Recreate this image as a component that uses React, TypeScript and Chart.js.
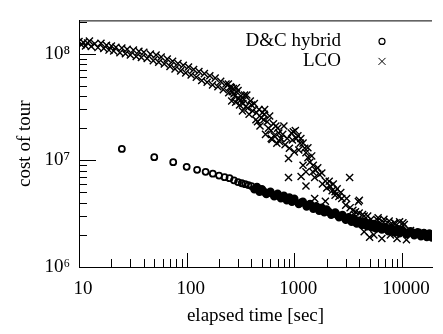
import { useEffect, useRef } from 'react';
import { Chart, registerables } from 'chart.js';

Chart.register(...registerables);

// ---- data ----
const seriesNames = ['D&C hybrid', 'LCO'];
const xTickValues = [10, 100, 1000, 10000];
const yTickValues = [1e6, 1e7, 1e8];
const yTickLabels = ['10\u2076', '10\u2077', '10\u2078'];

// D&C hybrid: [elapsed time (s), cost of tour]
const dcEarly: [number, number][] = [
  [25, 1.28e7], [50, 1.07e7], [75, 9.6e6], [100, 8.7e6], [125, 8.15e6], [150, 7.8e6],
  [175, 7.5e6], [200, 7.2e6], [225, 6.95e6], [250, 6.8e6], [275, 6.5e6], [300, 6.25e6],
  [325, 6.1e6], [350, 5.98e6], [375, 5.86e6], [400, 5.74e6],
];
const dcUpper: [number, number][] = [
  [450, 5.64e6], [500, 5.37e6], [600, 5.09e6], [700, 4.86e6], [800, 4.67e6], [900, 4.49e6],
  [1000, 4.36e6], [1200, 4.10e6], [1400, 3.90e6], [1600, 3.72e6], [1800, 3.59e6], [2000, 3.46e6],
  [2400, 3.24e6], [2800, 3.08e6], [3200, 2.93e6], [3600, 2.82e6], [4000, 2.72e6], [4500, 2.64e6],
  [5000, 2.58e6], [5500, 2.53e6], [6000, 2.46e6], [7000, 2.38e6], [8000, 2.31e6], [9000, 2.27e6],
  [10000, 2.24e6], [12000, 2.17e6], [14000, 2.12e6], [16000, 2.08e6], [18000, 2.06e6], [20000, 2.04e6],
];
const dcMiddle: [number, number][] = [
  [440, 5.48e6], [520, 5.10e6], [575, 4.95e6], [680, 4.71e6], [780, 4.53e6], [880, 4.35e6],
  [980, 4.21e6], [1150, 4.00e6], [1350, 3.80e6], [1550, 3.62e6], [1750, 3.48e6], [2100, 3.28e6],
  [2500, 3.08e6], [2900, 2.92e6], [3300, 2.79e6], [3700, 2.69e6], [4100, 2.60e6], [4700, 2.52e6],
  [5200, 2.46e6], [5700, 2.41e6], [6300, 2.35e6], [6800, 2.31e6], [7200, 2.28e6], [7800, 2.23e6],
  [8300, 2.21e6], [8800, 2.19e6], [9300, 2.17e6], [9800, 2.15e6], [10500, 2.13e6], [11500, 2.10e6],
  [12500, 2.08e6], [13500, 2.05e6], [14500, 2.03e6], [15500, 2.01e6], [16500, 2.00e6], [17500, 1.98e6],
  [18500, 1.97e6],
];
const dcLower: [number, number][] = [
  [425, 5.36e6], [475, 5.08e6], [550, 4.82e6], [650, 4.59e6], [750, 4.40e6], [850, 4.22e6],
  [950, 4.08e6], [1100, 3.90e6], [1300, 3.69e6], [1500, 3.51e6], [1700, 3.37e6], [1900, 3.25e6],
  [2200, 3.09e6], [2600, 2.92e6], [3000, 2.77e6], [3400, 2.65e6], [3800, 2.55e6], [4250, 2.48e6],
  [4750, 2.41e6], [5250, 2.35e6], [5750, 2.30e6], [6500, 2.24e6], [7500, 2.16e6], [8500, 2.11e6],
  [9500, 2.07e6], [11000, 2.04e6], [13000, 1.98e6], [15000, 1.94e6], [17000, 1.91e6], [19000, 1.89e6],
];

// LCO: [elapsed time (s), cost of tour]
const lcoEarly: [number, number][] = [
  [10, 1.30e8], [10.5, 1.21e8], [11, 1.27e8], [11.5, 1.18e8], [12, 1.26e8], [12.5, 1.31e8],
  [13, 1.17e8], [14, 1.24e8], [15, 1.14e8], [16, 1.25e8], [17, 1.12e8], [18, 1.20e8],
  [19, 1.08e8], [20, 1.18e8], [21, 1.06e8], [22, 1.15e8], [24, 1.02e8], [25, 1.13e8],
  [27, 1.00e8], [28, 1.10e8], [30, 0.97e8], [32, 1.08e8], [34, 0.94e8], [36, 1.05e8],
  [38, 0.92e8], [40, 1.03e8], [43, 0.90e8], [46, 0.99e8], [49, 0.86e8], [52, 0.97e8],
  [55, 0.83e8], [58, 0.93e8], [62, 0.80e8], [66, 0.89e8], [70, 0.76e8], [74, 0.85e8],
  [78, 0.72e8], [83, 0.81e8], [88, 0.69e8], [93, 0.78e8], [98, 0.66e8], [104, 0.75e8],
  [110, 0.63e8], [116, 0.71e8], [123, 0.60e8], [130, 0.68e8], [138, 0.56e8], [146, 0.65e8],
  [155, 0.54e8], [164, 0.62e8], [174, 0.51e8], [184, 0.59e8], [195, 0.49e8], [207, 0.55e8],
  [219, 0.46e8], [232, 0.52e8], [246, 0.43e8], [260, 0.48e8], [280, 0.40e8], [300, 0.45e8],
  [320, 0.37e8], [345, 0.41e8],
];
const lcoMid: [number, number][] = [
  [255, 4.9e7], [262, 3.6e7], [275, 4.2e7], [285, 3.5e7], [290, 4.8e7], [310, 3.3e7],
  [318, 4.0e7], [330, 2.9e7], [340, 3.7e7], [355, 3.2e7], [362, 4.1e7], [380, 2.7e7],
  [390, 3.6e7], [410, 2.9e7], [425, 3.4e7], [440, 2.4e7], [470, 3.0e7], [480, 2.1e7],
  [520, 2.4e7], [530, 3.0e7], [575, 2.0e7], [590, 2.6e7], [640, 2.2e7], [650, 1.7e7],
  [700, 2.0e7], [730, 1.5e7], [780, 1.75e7], [800, 2.1e7], [820, 1.4e7], [860, 1.6e7],
  [900, 1.3e7], [960, 1.55e7], [1000, 1.2e7], [1080, 1.7e7], [1100, 1.25e7], [1150, 1.6e7],
  [1250, 1.3e7], [1450, 1.1e7], [1500, 9.0e6], [1650, 8.5e6], [1800, 7.6e6], [2000, 5.5e6],
  [2300, 6.0e6], [2500, 5.4e6], [2700, 5.0e6], [3000, 3.8e6], [3300, 3.6e6], [3500, 3.4e6],
];
const lcoLate: [number, number][] = [
  [244, 5.2e7], [265, 4.4e7], [271, 4.7e7], [300, 3.8e7], [333, 3.4e7], [370, 3.1e7],
  [401, 3.3e7], [445, 2.8e7], [455, 2.3e7], [494, 2.5e7], [505, 2.8e7], [526, 2.7e7],
  [560, 2.3e7], [608, 1.9e7], [621, 1.57e7], [674, 2.1e7], [688, 1.45e7], [717, 1.8e7],
  [748, 1.6e7], [540, 1.75e7], [610, 1.6e7], [883, 1.04e7], [883, 6.9e6], [940, 1.8e7],
  [979, 1.85e7], [1021, 1.9e7], [1042, 1.6e7], [1132, 1.45e7], [1205, 1.45e7], [1283, 1.18e7],
  [1337, 1.31e7], [1337, 1.06e7], [1205, 9.0e6], [1393, 9.6e6], [1483, 7.8e6], [1283, 7.8e6],
  [1545, 6.9e6], [1578, 8.1e6], [1156, 7.05e6], [1714, 7.35e6], [1825, 6.0e6], [1942, 6.4e6],
  [2109, 6.36e6], [1283, 5.74e6], [2155, 5.7e6], [2245, 5.2e6], [2390, 5.07e6], [1545, 4.39e6],
  [1942, 4.13e6], [2390, 4.7e6], [2594, 4.58e6], [2760, 4.39e6], [3062, 4.39e6], [4018, 4.22e6],
  [3264, 6.9e6], [3934, 4.1e6], [3620, 3.1e6], [3700, 3.3e6], [4000, 3.2e6], [4300, 3.1e6],
  [4454, 3.0e6], [4800, 3.0e6], [5150, 2.8e6], [5956, 2.74e6], [6000, 2.9e6], [6740, 2.63e6],
  [6800, 2.8e6], [7600, 2.7e6], [7800, 2.5e6], [8500, 2.6e6], [8650, 2.55e6], [9500, 2.65e6],
  [10200, 2.6e6], [10500, 2.5e6], [4454, 2.14e6], [5000, 1.9e6], [5480, 2.0e6], [6500, 1.85e6],
  [7800, 2.0e6], [9000, 1.85e6], [11000, 1.8e6], [12000, 2.2e6], [14000, 2.1e6], [16500, 2.05e6],
];

const FONT = '"Liberation Serif", "Times New Roman", serif';

const toXY = (arr: [number, number][]) => arr.map(([x, y]) => ({ x, y }));
const isPow10 = (v: number) => Math.abs(Math.log10(v) - Math.round(Math.log10(v))) < 1e-9;
// the dense part of the D&C run (many overlapping circles) prints as a solid band
const inDenseBand = (c: any) => !!c.raw && c.raw.x >= 420;

const framePlugin = {
  id: 'frame',
  afterDatasetsDraw(chart: any) {
    const { ctx, chartArea: a, scales } = chart;
    const xs = scales.x;
    const ys = scales.y;
    ctx.save();
    ctx.strokeStyle = '#000';
    ctx.lineWidth = 1;
    ctx.beginPath();
    ctx.moveTo(a.left, a.top + 0.5);
    ctx.lineTo(a.right, a.top + 0.5);
    for (let d = 10; d <= 10000; d *= 10) {
      for (let m = 1; m <= 9; m++) {
        const v = d * m;
        if (v > xs.max) break;
        const px = Math.round(xs.getPixelForValue(v)) + 0.5;
        const len = m === 1 ? 14 : 8;
        ctx.moveTo(px, a.bottom);
        ctx.lineTo(px, a.bottom - len);
      }
    }
    for (let d = 1e6; d <= 1e8; d *= 10) {
      for (let m = 1; m <= 9; m++) {
        const v = d * m;
        if (v > ys.max) break;
        const py = Math.round(ys.getPixelForValue(v)) + 0.5;
        const len = m === 1 ? 17 : 8;
        ctx.moveTo(a.left, py);
        ctx.lineTo(a.left + len, py);
      }
    }
    ctx.stroke();

    // legend
    const tx = a.right - 91;
    const mx = a.right - 50;
    const y1 = a.top + 21;
    const y2 = a.top + 41;
    ctx.fillStyle = '#000';
    ctx.font = `19px ${FONT}`;
    ctx.textAlign = 'right';
    ctx.textBaseline = 'middle';
    ctx.fillText(chart.data.datasets[0].label, tx, y1);
    ctx.fillText(chart.data.datasets[1].label, tx, y2);
    ctx.beginPath();
    ctx.arc(mx, y1, 3, 0, Math.PI * 2);
    ctx.lineWidth = 1.2;
    ctx.stroke();
    ctx.beginPath();
    ctx.lineWidth = 1;
    ctx.moveTo(mx - 3.5, y2 - 3.5);
    ctx.lineTo(mx + 3.5, y2 + 3.5);
    ctx.moveTo(mx - 3.5, y2 + 3.5);
    ctx.lineTo(mx + 3.5, y2 - 3.5);
    ctx.stroke();
    ctx.restore();
  },
};

export default function App() {
  const ref = useRef<HTMLCanvasElement | null>(null);
  useEffect(() => {
    if (!ref.current) return;
    const chart = new Chart(ref.current, {
      type: 'scatter',
      data: {
        datasets: [
          {
            label: seriesNames[0],
            data: [...toXY(dcEarly), ...toXY(dcUpper), ...toXY(dcMiddle), ...toXY(dcLower)],
            pointStyle: 'circle',
            pointRadius: (c: any) => (inDenseBand(c) ? 3.3 : 3),
            pointBorderWidth: 1.8,
            borderColor: '#000',
            backgroundColor: (c: any) => (inDenseBand(c) ? '#000' : 'rgba(0,0,0,0)'),
          },
          {
            label: seriesNames[1],
            data: [...toXY(lcoEarly), ...toXY(lcoMid), ...toXY(lcoLate)],
            pointStyle: 'crossRot',
            pointRadius: 5,
            pointBorderWidth: 1.4,
            borderColor: '#000',
            backgroundColor: '#000',
          },
        ],
      },
      options: {
        animation: false,
        responsive: false,
        layout: { padding: { top: 8, right: 0, bottom: 0, left: 0 } },
        plugins: { legend: { display: false }, tooltip: { enabled: false } },
        scales: {
          x: {
            type: 'logarithmic',
            min: 10,
            max: 19000,
            grid: { display: false, drawTicks: false },
            border: { display: true, color: '#000', width: 1 },
            ticks: {
              autoSkip: false,
              maxRotation: 0,
              padding: 11,
              labelOffset: 4,
              color: '#000',
              font: { family: FONT, size: 19 },
              callback: (v: any) => (xTickValues.some((t) => Math.abs(t - v) < 1e-6) ? String(Math.round(v)) : ''),
            },
            title: {
              display: true,
              text: 'elapsed time [sec]',
              color: '#000',
              font: { family: FONT, size: 19 },
              padding: { top: 0, bottom: 7 },
            },
            afterFit: (s: any) => {
              s.height = 67;
            },
          },
          y: {
            type: 'logarithmic',
            min: 1e6,
            max: 2.05e8,
            grid: { display: false, drawTicks: false },
            border: { display: true, color: '#000', width: 1 },
            ticks: {
              autoSkip: false,
              padding: 9,
              color: '#000',
              font: { family: FONT, size: 19 },
              callback: (v: any) => {
                if (!isPow10(v)) return '';
                const i = yTickValues.findIndex((t) => Math.abs(t - v) / t < 1e-6);
                return i >= 0 ? yTickLabels[i] : '';
              },
            },
            title: {
              display: true,
              text: 'cost of tour',
              color: '#000',
              font: { family: FONT, size: 19 },
              padding: { top: 14, bottom: 0 },
            },
            afterFit: (s: any) => {
              s.width = 79;
            },
          },
        },
      },
      plugins: [framePlugin],
    });
    return () => chart.destroy();
  }, []);
  return (
    <div style={{ position: 'fixed', left: 0, top: 0, width: 443, height: 334, background: '#fff' }}>
      <canvas ref={ref} width={443} height={334} style={{ display: 'block' }} />
    </div>
  );
}
